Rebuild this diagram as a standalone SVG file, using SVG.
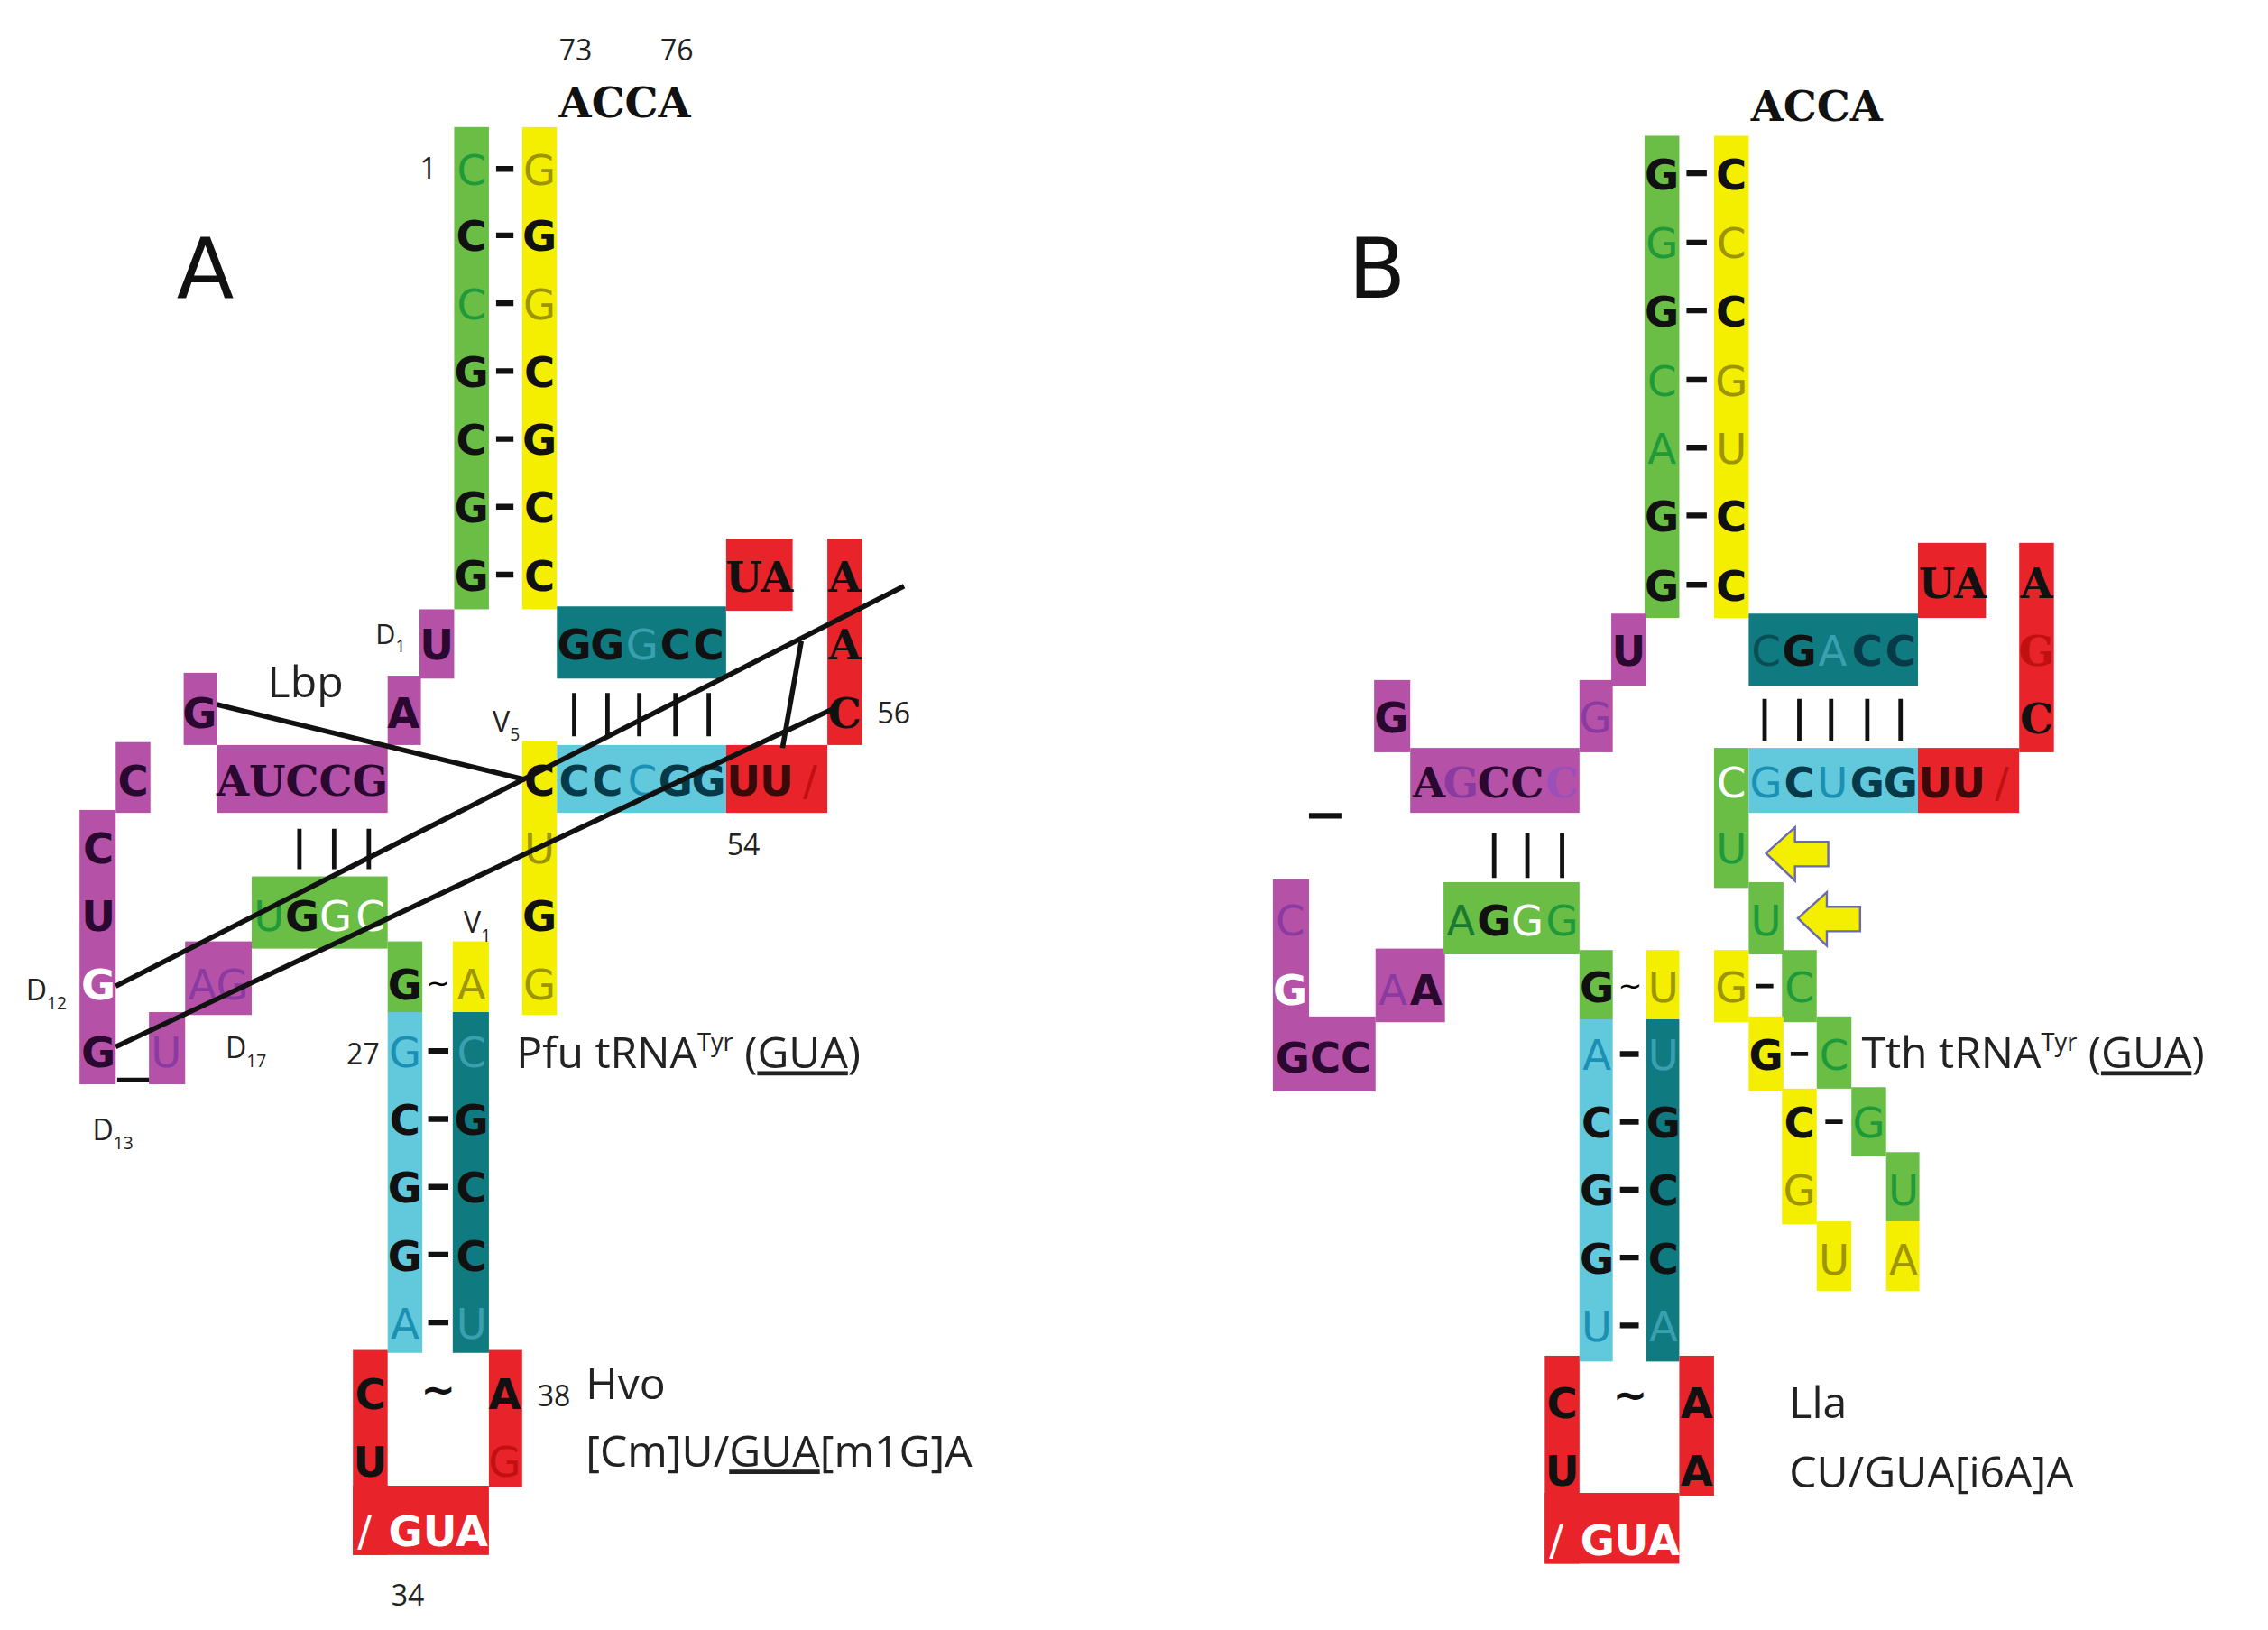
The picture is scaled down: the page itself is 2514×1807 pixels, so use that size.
<svg xmlns="http://www.w3.org/2000/svg" width="2514" height="1807" viewBox="0 0 2514 1807">
<style>
.g{fill:#6abd45}.y{fill:#f4ee00}.m{fill:#b552a8}.t{fill:#0f7a80}.lb{fill:#62c8dc}.r{fill:#e8232a}
text{font-family:"DejaVu Sans",Verdana,sans-serif;font-size:29px;text-anchor:middle}
.b{font-weight:bold;fill:#111}
.mo{font-family:"DejaVu Serif","Liberation Serif",serif;font-weight:bold;font-size:29px;fill:#111}
.fg{fill:#1f9a3a}.fy{fill:#9c9400}.fm{fill:#8a3aa0}.ft{fill:#3aa0b0}.fl{fill:#1a90b4}.fr{fill:#c01010}.w{fill:#fff}
.pb{fill:#2a0830;font-weight:bold}
.lab{font-family:"Open Sans","Noto Sans",sans-serif;font-size:30px;fill:#222;text-anchor:start}
.n{font-family:"Open Sans","Noto Sans",sans-serif;font-size:20px;fill:#222}
.big{font-family:"DejaVu Sans",sans-serif;font-size:58px;fill:#111}
.bar{stroke:#111;stroke-width:3}
.dash{stroke:#111;stroke-width:4}
</style>
<g transform="scale(1.6033,1.6006)">
<g id="panelA">
<text class="big" x="142" y="206">A</text>
<text class="n" x="398" y="42">73</text><text class="n" x="468" y="42">76</text>
<text class="mo" x="432" y="81">ACCA</text>
<g id="A-acceptor">
<rect class="g" x="314" y="88" width="24" height="334"/>
<rect class="y" x="361" y="88" width="24" height="334"/>
<text class="n" x="296" y="124">1</text>
<text class="fg" x="326" y="128">C</text><text class="fy" x="373" y="128">G</text>
<text class="b" x="326" y="174">C</text><text class="b" x="373" y="174">G</text>
<text class="fg" x="326" y="221">C</text><text class="fy" x="373" y="221">G</text>
<text class="b" x="326" y="268">G</text><text class="b" x="373" y="268">C</text>
<text class="b" x="326" y="315">C</text><text class="b" x="373" y="315">G</text>
<text class="b" x="326" y="362">G</text><text class="b" x="373" y="362">C</text>
<text class="b" x="326" y="409">G</text><text class="b" x="373" y="409">C</text>
<path class="dash" d="M343 117h12M343 163h12M343 210h12M343 257h12M343 304h12M343 351h12M343 398h12"/>
</g>
<g id="A-Darm">
<rect class="m" x="290" y="422" width="24" height="48"/>
<rect class="m" x="268" y="468" width="23" height="48"/>
<rect class="m" x="127" y="466" width="23" height="50"/>
<rect class="m" x="150" y="516" width="118" height="47"/>
<rect class="m" x="80" y="514" width="24" height="49"/>
<rect class="m" x="55" y="561" width="25" height="190"/>
<rect class="m" x="103" y="701" width="25" height="50"/>
<rect class="m" x="128" y="652" width="46" height="51"/>
<text class="pb" x="302" y="457">U</text>
<text class="n" x="270" y="446" style="font-size:19px">D<tspan font-size="12" dy="6">1</tspan></text>
<text class="pb" x="279" y="504">A</text>
<text class="pb" x="138" y="504">G</text>
<text class="lab" x="185" y="483">Lbp</text>
<text class="mo" x="209" y="551" style="fill:#2a0830">AUCCG</text>
<text class="pb" x="92" y="551">C</text>
<text class="pb" x="68" y="598">C</text>
<text class="pb" x="68" y="645">U</text>
<text class="w" x="68" y="692" style="font-weight:bold">G</text>
<text class="pb" x="68" y="739">G</text>
<text class="fm" x="115" y="739">U</text>
<text class="fm" x="151" y="692">AG</text>
<path class="dash" d="M81 748h22" style="stroke-width:3"/>
<text class="n" x="32" y="693">D<tspan font-size="12" dy="6">12</tspan></text>
<text class="n" x="170" y="733">D<tspan font-size="12" dy="6">17</tspan></text>
<text class="n" x="78" y="790">D<tspan font-size="12" dy="6">13</tspan></text>
<path class="bar" d="M207 574v28M231 574v28M255 574v28"/>
<rect class="g" x="174" y="607" width="94" height="50"/>
<text class="fg" x="186" y="645">U</text><text class="b" x="209" y="645">G</text><text class="w" x="232" y="645">G</text><text class="w" x="256" y="645">C</text>
</g>
<g id="A-anticodon">
<rect class="g" x="268" y="652" width="24" height="49"/>
<rect class="y" x="313" y="652" width="25" height="49"/>
<text class="n" x="330" y="646">V<tspan font-size="12" dy="6">1</tspan></text>
<text class="b" x="280" y="692">G</text><text x="303" y="688" style="font-size:20px">~</text><text class="fy" x="326" y="692">A</text>
<rect class="lb" x="268" y="701" width="24" height="236"/>
<rect class="t" x="313" y="701" width="25" height="236"/>
<text class="n" x="251" y="737">27</text>
<text class="fl" x="280" y="739">G</text><text class="ft" x="326" y="739">C</text>
<text class="b" x="280" y="786">C</text><text class="b" x="326" y="786">G</text>
<text class="b" x="280" y="833">G</text><text class="b" x="326" y="833">C</text>
<text class="b" x="280" y="880">G</text><text class="b" x="326" y="880">C</text>
<text class="fl" x="280" y="927">A</text><text class="ft" x="326" y="927">U</text>
<path class="dash" d="M296 728h14M296 775h14M296 822h14M296 869h14M296 916h14"/>
<rect class="r" x="244" y="935" width="24" height="142"/>
<rect class="r" x="338" y="935" width="23" height="95"/>
<rect class="r" x="244" y="1029" width="94" height="48"/>
<text class="b" x="256" y="976">C</text><text class="b" x="256" y="1023">U</text>
<text class="b" x="303" y="972">~</text>
<text class="b" x="349" y="976">A</text><text class="fr" x="349" y="1023">G</text>
<text class="w" x="252" y="1071">/</text><text class="w" x="303" y="1071" style="font-weight:bold">GUA</text>
<text class="n" x="282" y="1112">34</text>
<text class="n" x="383" y="974">38</text>
<text class="lab" x="405" y="969">Hvo</text>
<text class="lab" x="405" y="1016">[Cm]U/<tspan text-decoration="underline">GUA</tspan>[m1G]A</text>
<text class="lab" x="357" y="740">Pfu tRNA<tspan font-size="17" dy="-12">Tyr</tspan><tspan dy="12"> (</tspan><tspan text-decoration="underline">GUA</tspan>)</text>
</g>
<g id="A-Tarm">
<rect class="y" x="361" y="513" width="24" height="190"/>
<text class="n" x="350" y="507">V<tspan font-size="12" dy="6">5</tspan></text>
<text class="b" x="373" y="551">C</text><text class="fy" x="373" y="598">U</text><text class="b" x="373" y="645">G</text><text class="fy" x="373" y="692">G</text>
<rect class="lb" x="385" y="516" width="117" height="47"/>
<rect class="r" x="502" y="516" width="70" height="47"/>
<text class="b" x="397" y="551" style="fill:#063a48">C</text><text class="b" x="420" y="551" style="fill:#063a48">C</text><text class="fl" x="444" y="551">C</text><text class="b" x="467" y="551" style="fill:#063a48">G</text><text class="b" x="490" y="551" style="fill:#063a48">G</text>
<text class="b" x="514" y="551" style="fill:#3a0a0a">U</text><text class="b" x="537" y="551" style="fill:#3a0a0a">U</text><text class="fr" x="560" y="551">/</text>
<rect class="t" x="385" y="420" width="117" height="50"/>
<text class="b" x="397" y="457">G</text><text class="b" x="420" y="457">G</text><text class="ft" x="444" y="457">G</text><text class="b" x="467" y="457">C</text><text class="b" x="490" y="457">C</text>
<path class="bar" d="M397 480v30M420 480v30M442 480v30M467 480v30M490 480v30"/>
<rect class="r" x="502" y="373" width="46" height="50"/>
<text class="mo" x="525" y="410">UA</text>
<rect class="r" x="572" y="373" width="24" height="143"/>
<text class="mo" x="584" y="410">A</text><text class="mo" x="584" y="457">A</text><text class="mo" x="584" y="504">C</text>
<text class="n" x="618" y="501">56</text>
<text class="n" x="514" y="592">54</text>
</g>
</g>
<g id="connectors" stroke="#111" stroke-width="3.5" fill="none">
<path d="M150 488L363 540"/>
<path d="M80 683L625 406"/>
<path d="M80 725L578 490"/>
<path d="M541 518L554 444"/>
</g>
<g id="panelB">
<text class="big" x="952" y="206">B</text>
<text class="mo" x="1256" y="84">ACCA</text>
<g id="B-acceptor">
<rect class="g" x="1137" y="94" width="24" height="334"/>
<rect class="y" x="1185" y="94" width="24" height="334"/>
<text class="b" x="1149" y="131">G</text><text class="b" x="1197" y="131">C</text>
<text class="fg" x="1149" y="179">G</text><text class="fy" x="1197" y="179">C</text>
<text class="b" x="1149" y="226">G</text><text class="b" x="1197" y="226">C</text>
<text class="fg" x="1149" y="274">C</text><text class="fy" x="1197" y="274">G</text>
<text class="fg" x="1149" y="321">A</text><text class="fy" x="1197" y="321">U</text>
<text class="b" x="1149" y="368">G</text><text class="b" x="1197" y="368">C</text>
<text class="b" x="1149" y="416">G</text><text class="b" x="1197" y="416">C</text>
<path class="dash" d="M1166 120h14M1166 168h14M1166 215h14M1166 263h14M1166 310h14M1166 357h14M1166 405h14"/>
</g>
<g id="B-Darm">
<rect class="m" x="1114" y="425" width="24" height="50"/>
<rect class="m" x="1092" y="471" width="23" height="50"/>
<rect class="m" x="950" y="471" width="25" height="50"/>
<rect class="m" x="975" y="518" width="117" height="45"/>
<text class="pb" x="1126" y="461">U</text>
<text class="fm" x="1103" y="507">G</text>
<text class="pb" x="962" y="507">G</text>
<text class="mo" x="988" y="552" style="fill:#2a0830">A</text><text class="mo" x="1010" y="552" style="fill:#8a3aa0">G</text><text class="mo" x="1033" y="552" style="fill:#2a0830">C</text><text class="mo" x="1056" y="552" style="fill:#2a0830">C</text><text class="mo" x="1080" y="552" style="fill:#9a50b8">C</text>
<path class="dash" d="M905 565h23"/>
<path class="bar" d="M1033 577v31M1056 577v31M1080 577v31"/>
<rect class="m" x="880" y="609" width="25" height="147"/>
<rect class="m" x="905" y="704" width="46" height="52"/>
<rect class="m" x="951" y="657" width="48" height="51"/>
<text class="fm" x="892" y="648">C</text>
<text class="w" x="892" y="696" style="font-weight:bold">G</text>
<text class="fm" x="963" y="696">A</text><text class="pb" x="986" y="696">A</text>
<text class="pb" x="915" y="743">GCC</text>
<rect class="g" x="998" y="611" width="94" height="50"/>
<text class="fg" x="1010" y="648" style="fill:#1a7a30">A</text><text class="b" x="1033" y="648">G</text><text class="w" x="1056" y="648">G</text><text class="fg" x="1080" y="648">G</text>
</g>
<g id="B-anticodon">
<rect class="g" x="1092" y="658" width="23" height="48"/>
<rect class="y" x="1138" y="658" width="23" height="48"/>
<text class="b" x="1104" y="694">G</text><text x="1127" y="690" style="font-size:20px">~</text><text class="fy" x="1150" y="694">U</text>
<rect class="lb" x="1092" y="706" width="23" height="237"/>
<rect class="t" x="1138" y="706" width="23" height="237"/>
<text class="fl" x="1104" y="741">A</text><text class="ft" x="1150" y="741">U</text>
<text class="b" x="1104" y="788">C</text><text class="b" x="1150" y="788">G</text>
<text class="b" x="1104" y="835">G</text><text class="b" x="1150" y="835">C</text>
<text class="b" x="1104" y="882">G</text><text class="b" x="1150" y="882">C</text>
<text class="fl" x="1104" y="929">U</text><text class="ft" x="1150" y="929">A</text>
<path class="dash" d="M1120 730h13M1120 777h13M1120 824h13M1120 871h13M1120 918h13"/>
<rect class="r" x="1068" y="939" width="24" height="144"/>
<rect class="r" x="1161" y="939" width="24" height="97"/>
<rect class="r" x="1068" y="1034" width="93" height="49"/>
<text class="b" x="1080" y="982">C</text><text class="b" x="1080" y="1029">U</text>
<text class="b" x="1127" y="976">~</text>
<text class="b" x="1173" y="982">A</text><text class="b" x="1173" y="1029">A</text>
<text class="w" x="1076" y="1077">/</text><text class="w" x="1127" y="1077" style="font-weight:bold">GUA</text>
<text class="lab" x="1237" y="982">Lla</text>
<text class="lab" x="1237" y="1030">CU/GUA[i6A]A</text>
<text class="lab" x="1287" y="740">Tth tRNA<tspan font-size="17" dy="-12">Tyr</tspan><tspan dy="12"> (</tspan><tspan text-decoration="underline">GUA</tspan>)</text>
</g>
<g id="B-Tarm">
<rect class="t" x="1209" y="425" width="117" height="50"/>
<text x="1221" y="461" style="fill:#0a4e55">C</text><text class="b" x="1244" y="461">G</text><text class="ft" x="1267" y="461">A</text><text class="b" x="1291" y="461" style="fill:#063a48">C</text><text class="b" x="1314" y="461" style="fill:#063a48">C</text>
<path class="bar" d="M1220 484v29M1244 484v29M1266 484v29M1291 484v29M1314 484v29"/>
<rect class="r" x="1326" y="376" width="47" height="52"/>
<text class="mo" x="1350" y="414">UA</text>
<rect class="r" x="1396" y="376" width="24" height="145"/>
<text class="mo" x="1408" y="414">A</text><text class="mo" x="1408" y="461" style="fill:#c01010">G</text><text class="mo" x="1408" y="508">C</text>
<rect class="g" x="1185" y="518" width="24" height="97"/>
<rect class="lb" x="1209" y="518" width="117" height="45"/>
<rect class="r" x="1326" y="518" width="70" height="45"/>
<text class="w" x="1197" y="552">C</text>
<text class="fl" x="1221" y="552">G</text><text class="b" x="1244" y="552" style="fill:#063a48">C</text><text class="fl" x="1267" y="552">U</text><text class="b" x="1291" y="552" style="fill:#063a48">G</text><text class="b" x="1314" y="552" style="fill:#063a48">G</text>
<text class="b" x="1338" y="552" style="fill:#3a0a0a">U</text><text class="b" x="1361" y="552" style="fill:#3a0a0a">U</text><text class="fr" x="1384" y="552">/</text>
<text class="fg" x="1197" y="598">U</text>
<rect class="g" x="1209" y="611" width="24" height="50"/>
<text class="fg" x="1221" y="648">U</text>
<path d="M1221 591l20-18v10h23v17h-23v10z" fill="#f4ee00" stroke="#6a6ab0" stroke-width="1.5"/>
<path d="M1243 636l20-18v10h23v17h-23v10z" fill="#f4ee00" stroke="#6a6ab0" stroke-width="1.5"/>
<rect class="y" x="1185" y="658" width="24" height="50"/>
<rect class="g" x="1232" y="658" width="24" height="50"/>
<text class="fy" x="1197" y="694">G</text><text class="fg" x="1244" y="694">C</text>
<rect class="y" x="1209" y="704" width="24" height="52"/>
<rect class="g" x="1256" y="704" width="24" height="50"/>
<text class="b" x="1221" y="741">G</text><text class="fg" x="1268" y="741">C</text>
<rect class="y" x="1232" y="754" width="24" height="94"/>
<rect class="g" x="1280" y="753" width="24" height="48"/>
<text class="b" x="1244" y="788">C</text><text class="fg" x="1292" y="788">G</text>
<rect class="g" x="1304" y="798" width="23" height="48"/>
<text class="fy" x="1244" y="835">G</text><text class="fg" x="1316" y="835">U</text>
<rect class="y" x="1256" y="846" width="24" height="48"/>
<rect class="y" x="1304" y="846" width="23" height="48"/>
<text class="fy" x="1268" y="883">U</text><text class="fy" x="1316" y="883">A</text>
<path class="dash" d="M1214 683h12M1238 730h12M1262 777h12" style="stroke-width:3"/>
</g>
</g>
</g>
</svg>
